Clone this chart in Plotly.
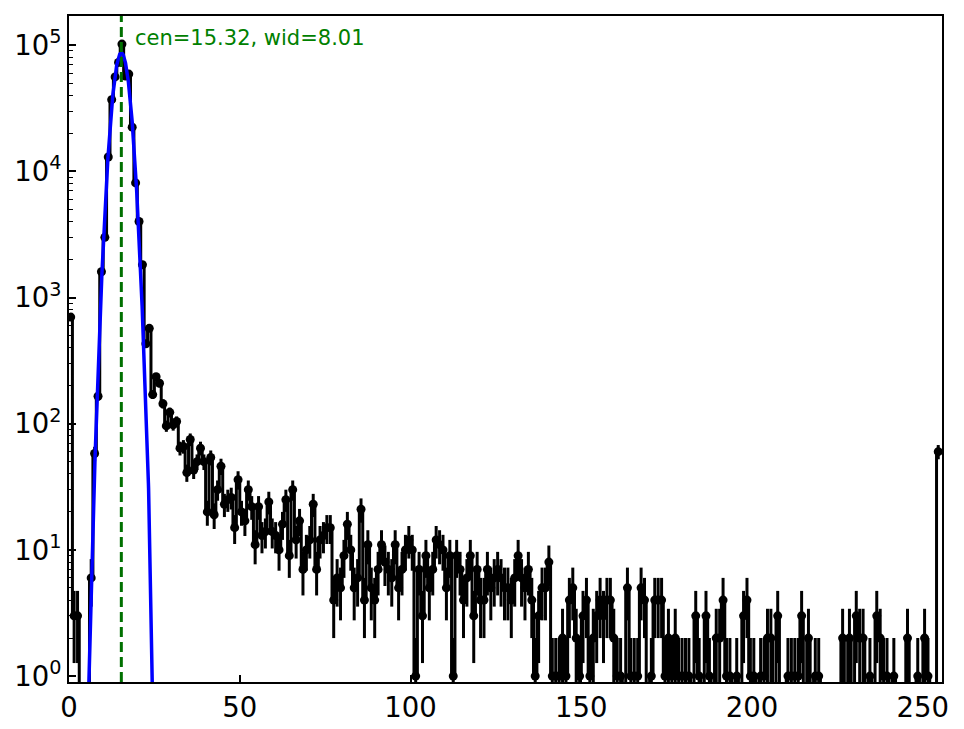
import numpy as np
import plotly.graph_objects as go

# histogram counts per unit-wide bin (bins start at 0)
COUNTS = [
    700, 3, 3, 0, 0, 0, 6, 58, 165, 1600,
    3000, 13000, 37000, 56000, 73000, 102000, 57000, 59000, 22400, 8100,
    4000, 1820, 430, 570, 170, 236, 209, 144, 96, 123,
    98, 104, 64, 66, 41, 75, 43, 50, 64, 50,
    20, 54, 19, 30, 46, 23, 25, 26, 15, 36,
    20, 17, 30, 22, 11, 22, 13, 14, 24, 14,
    13, 10, 16, 25, 9, 30, 12, 17, 7, 10,
    12, 23, 7, 12, 13, 15, 15, 4, 6, 5,
    9, 16, 10, 5, 6, 21, 4, 11, 5, 4,
    7, 11, 8, 7, 6, 11, 5, 7, 10, 12,
    10, 1, 7, 3, 9, 5, 7, 12, 11, 10,
    5, 9, 1, 9, 7, 4, 6, 9, 3, 7,
    4, 4, 7, 5, 6, 7, 6, 5, 5, 4,
    6, 9, 6, 5, 7, 4, 1, 3, 5, 5,
    8, 1, 1, 1, 2, 1, 4, 5, 2, 1,
    3, 4, 1, 2, 3, 4, 3, 4, 4, 2,
    1, 1, 0, 5, 1, 1, 1, 5, 4, 0,
    1, 4, 4, 4, 1, 2, 1, 2, 1, 1,
    1, 1, 0, 3, 1, 0, 3, 1, 0, 2,
    2, 4, 1, 1, 0, 1, 0, 3, 4, 1,
    1, 0, 1, 1, 2, 2, 0, 3, 0, 0,
    1, 1, 1, 1, 3, 0, 2, 0, 1, 1,
    0, 0, 0, 0, 0, 0, 2, 0, 2, 0,
    3, 2, 2, 0, 1, 0, 3, 2, 1, 1,
    0, 1, 0, 0, 0, 2, 0, 0, 1, 0,
    2, 1, 0, 0, 60,
]

# gaussian fit result shown in the plot
FIT_AMP = 87000.0
FIT_CEN = 15.32
FIT_WID = 8.01

X_TICKS = [0, 50, 100, 150, 200, 250]
Y_TICKS = [1, 10, 100, 1000, 10000, 100000]
Y_TICK_TEXT = ["10<sup>%d</sup>" % e for e in range(6)]

FONT = "DejaVu Sans"


def build_figure():
    counts = np.array(COUNTS, dtype=float)
    centers = np.arange(len(counts)) + 0.5
    errors = np.sqrt(counts)

    # log axis: push empty bins far below the frame so the step line drops out
    step_y = np.where(counts > 0, counts, 1e-3)

    fig = go.Figure()

    fig.add_trace(go.Scatter(
        x=centers, y=step_y, mode="lines", line_shape="hvh",
        line=dict(color="black", width=3), hoverinfo="skip"))

    fig.add_trace(go.Scatter(
        x=centers, y=counts, mode="markers",
        marker=dict(color="black", size=9),
        error_y=dict(type="data", array=errors, visible=True,
                     color="black", thickness=3, width=0)))

    # fitted gaussian
    xf = np.linspace(0, 40, 801)
    yf = FIT_AMP * np.exp(-(xf - FIT_CEN) ** 2 / FIT_WID)
    fig.add_trace(go.Scatter(x=xf, y=yf, mode="lines",
                             line=dict(color="#0000ff", width=3.5)))

    fig.add_shape(type="line", x0=FIT_CEN, x1=FIT_CEN, y0=0, y1=1,
                  xref="x", yref="paper",
                  line=dict(color="#007000", width=3, dash="10px,5px"))

    fig.add_annotation(x=18.7, y=0.967, xref="x", yref="paper",
                       xanchor="left", yanchor="middle", showarrow=False,
                       text="cen=%.2f, wid=%.2f" % (FIT_CEN, FIT_WID),
                       font=dict(family=FONT, size=21, color="#008000"))

    # page body has an 8px margin, so the figure is a bit smaller than the window
    fig.update_layout(
        width=956, height=721,
        margin=dict(l=60, r=22, t=6, b=46),
        paper_bgcolor="white", plot_bgcolor="white",
        showlegend=False,
        font=dict(family=FONT, size=27.5, color="black"),
        xaxis=dict(range=[0, 255.6], tickmode="array", tickvals=X_TICKS,
                   ticks="inside", ticklen=7, tickwidth=1.5, tickcolor="black",
                   showline=True, mirror=True, linecolor="black", linewidth=1.8,
                   showgrid=False, zeroline=False,
                   tickfont=dict(family=FONT, size=27.5)),
        yaxis=dict(type="log", range=[-0.047, 5.231], tickmode="array",
                   tickvals=Y_TICKS, ticktext=Y_TICK_TEXT,
                   ticks="inside", ticklen=7, tickwidth=1.5, tickcolor="black",
                   showline=True, mirror=True, linecolor="black", linewidth=1.8,
                   showgrid=False, zeroline=False,
                   tickfont=dict(family=FONT, size=27.5),
                   minor=dict(ticks="inside", ticklen=4, tickwidth=1.2,
                              tickcolor="black", showgrid=False,
                              tickvals=[m * 10 ** e for e in range(6)
                                        for m in range(2, 10)])),
    )
    return fig


def main():
    fig = build_figure()
    fig.write_html("out.html")


if __name__ == "__main__":
    main()
